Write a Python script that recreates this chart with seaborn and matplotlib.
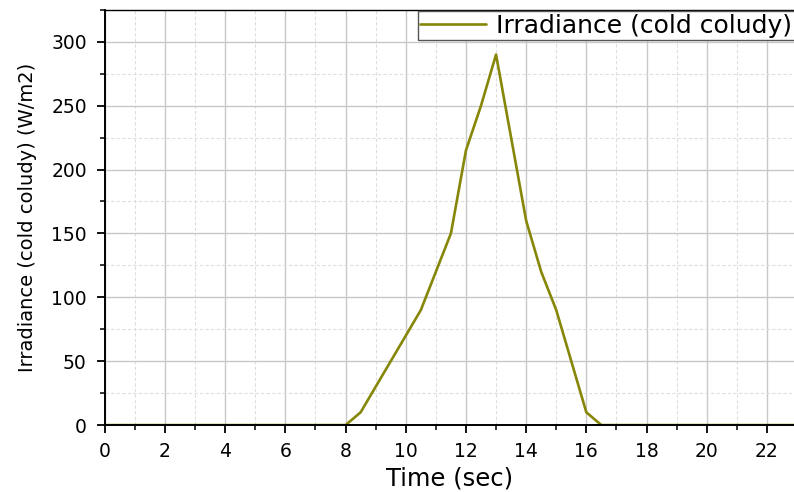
import matplotlib
matplotlib.use("Agg")
import matplotlib.pyplot as plt
import seaborn as sns
import pandas as pd
from matplotlib.ticker import MultipleLocator

time_sec = [0, 1, 2, 3, 4, 5, 6, 7, 8, 8.5, 10.5, 11.5, 12, 12.5, 13, 14, 14.5, 15, 16, 16.5,
            17, 18, 19, 20, 21, 22, 23]
irradiance = [0, 0, 0, 0, 0, 0, 0, 0, 0, 10, 90, 150, 215, 250, 290, 160, 120, 90, 10, 0,
              0, 0, 0, 0, 0, 0, 0]
series_label = "Irradiance (cold coludy)"

df = pd.DataFrame({"Time (sec)": time_sec, "Irradiance": irradiance})

sns.set_style("white")
plt.rcParams["font.family"] = ["DejaVu Sans"]
plt.rcParams["text.color"] = "black"
plt.rcParams["axes.labelcolor"] = "black"

fig = plt.figure(figsize=(7.94, 4.92), dpi=100)
ax = fig.add_axes([0.132, 0.136, 0.868, 0.844])

sns.lineplot(data=df, x="Time (sec)", y="Irradiance", ax=ax, color="#868608",
             linewidth=1.9, label=series_label, zorder=2.4)

ax.set_xlim(0, 22.9)
ax.set_ylim(0, 325)
ax.xaxis.set_major_locator(MultipleLocator(2))
ax.xaxis.set_minor_locator(MultipleLocator(1))
ax.yaxis.set_major_locator(MultipleLocator(50))
ax.yaxis.set_minor_locator(MultipleLocator(25))

ax.grid(which="major", color="#c8c8c8", linestyle="-", linewidth=1.0, zorder=0)
ax.grid(which="minor", color="#dedede", linestyle=(0, (3, 2)), linewidth=0.8, zorder=0)
ax.set_axisbelow(True)

ax.tick_params(which="major", direction="out", length=6, width=1.3, colors="black",
               labelsize=13.5, bottom=True, left=True)
ax.tick_params(which="minor", direction="out", length=3.5, width=1.1, colors="black",
               bottom=True, left=True)
ax.tick_params(axis="x", which="major", pad=6)
ax.tick_params(axis="y", which="major", pad=7)

for side in ["left", "bottom", "top"]:
    ax.spines[side].set_visible(True)
    ax.spines[side].set_color("black")
    ax.spines[side].set_linewidth(1.4)
ax.spines["top"].set_linewidth(1.0)
ax.spines["right"].set_visible(False)

ax.set_xlabel("Time (sec)", fontsize=17.5, labelpad=4, color="black")
ax.set_ylabel("Irradiance (cold coludy) (W/m2)", fontsize=14, labelpad=10, color="black")

leg = ax.legend(loc="upper left", bbox_to_anchor=(0.454, 0.997), fontsize=18,
                frameon=True, fancybox=False, borderpad=0.1, handlelength=2.65,
                handletextpad=0.4, borderaxespad=0, labelcolor="black")
leg.get_frame().set_edgecolor("#555555")
leg.get_frame().set_linewidth(1.0)
leg.get_frame().set_alpha(1)

fig.savefig("out.png", dpi=100)
